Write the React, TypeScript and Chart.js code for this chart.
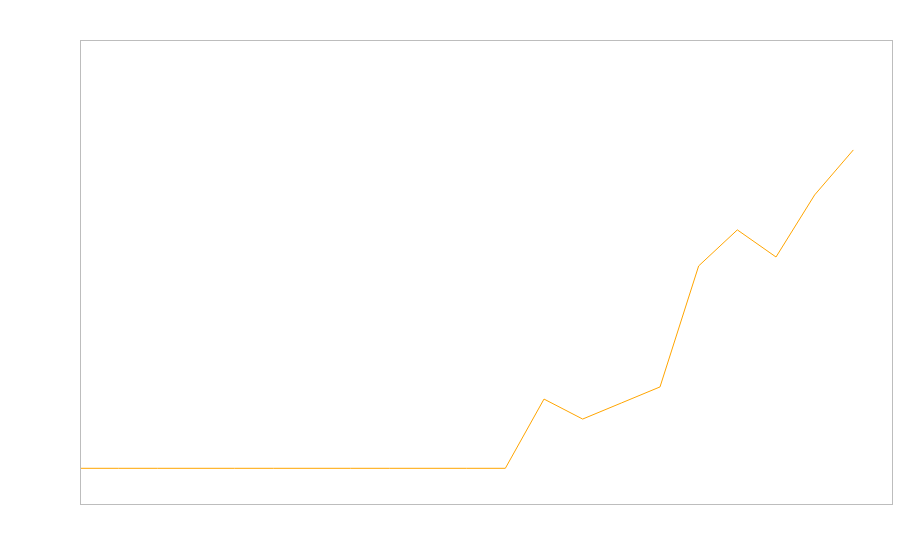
import React, { useEffect, useRef } from "react";
import { Chart, registerables } from "chart.js";

Chart.register(...registerables);

const categories: string[] = Array.from({ length: 22 }, (_, i) => String(i));
const seriesValues: (number | null)[] = [
  0, 0, 0, 0, 0, 0, 0, 0, 0, 0, 0, 0,
  1.94, 1.38, 1.83, 2.28, 5.67, 6.68, 5.92, 7.66, 8.92, null,
];
const yMin = -1;
const yMax = 12;

const borderPlugin = {
  id: "frameBorder",
  afterDraw(chart: any) {
    const { ctx, chartArea } = chart;
    ctx.save();
    ctx.strokeStyle = "#bdbdbd";
    ctx.lineWidth = 1;
    ctx.strokeRect(
      Math.round(chartArea.left) + 0.5,
      Math.round(chartArea.top) + 0.5,
      Math.round(chartArea.right - chartArea.left),
      Math.round(chartArea.bottom - chartArea.top)
    );
    ctx.restore();
  },
};

export default function App() {
  const ref = useRef<HTMLCanvasElement | null>(null);
  useEffect(() => {
    if (!ref.current) return;
    const chart = new Chart(ref.current, {
      type: "line",
      data: {
        labels: categories,
        datasets: [
          {
            data: seriesValues,
            borderColor: "#FFA500",
            borderWidth: 1,
            pointRadius: 0,
            fill: false,
            tension: 0,
          },
        ],
      },
      options: {
        animation: false,
        responsive: false,
        layout: { padding: { left: 80, right: 8, top: 40, bottom: 56 } },
        plugins: { legend: { display: false }, tooltip: { enabled: false } },
        scales: {
          x: { display: false, offset: false },
          y: { display: false, min: yMin, max: yMax },
        },
      },
      plugins: [borderPlugin],
    });
    return () => chart.destroy();
  }, []);
  return (
    <div style={{ position: "fixed", left: 0, top: 0, width: 900, height: 560, background: "#fff" }}>
      <canvas ref={ref} width={900} height={560} />
    </div>
  );
}
